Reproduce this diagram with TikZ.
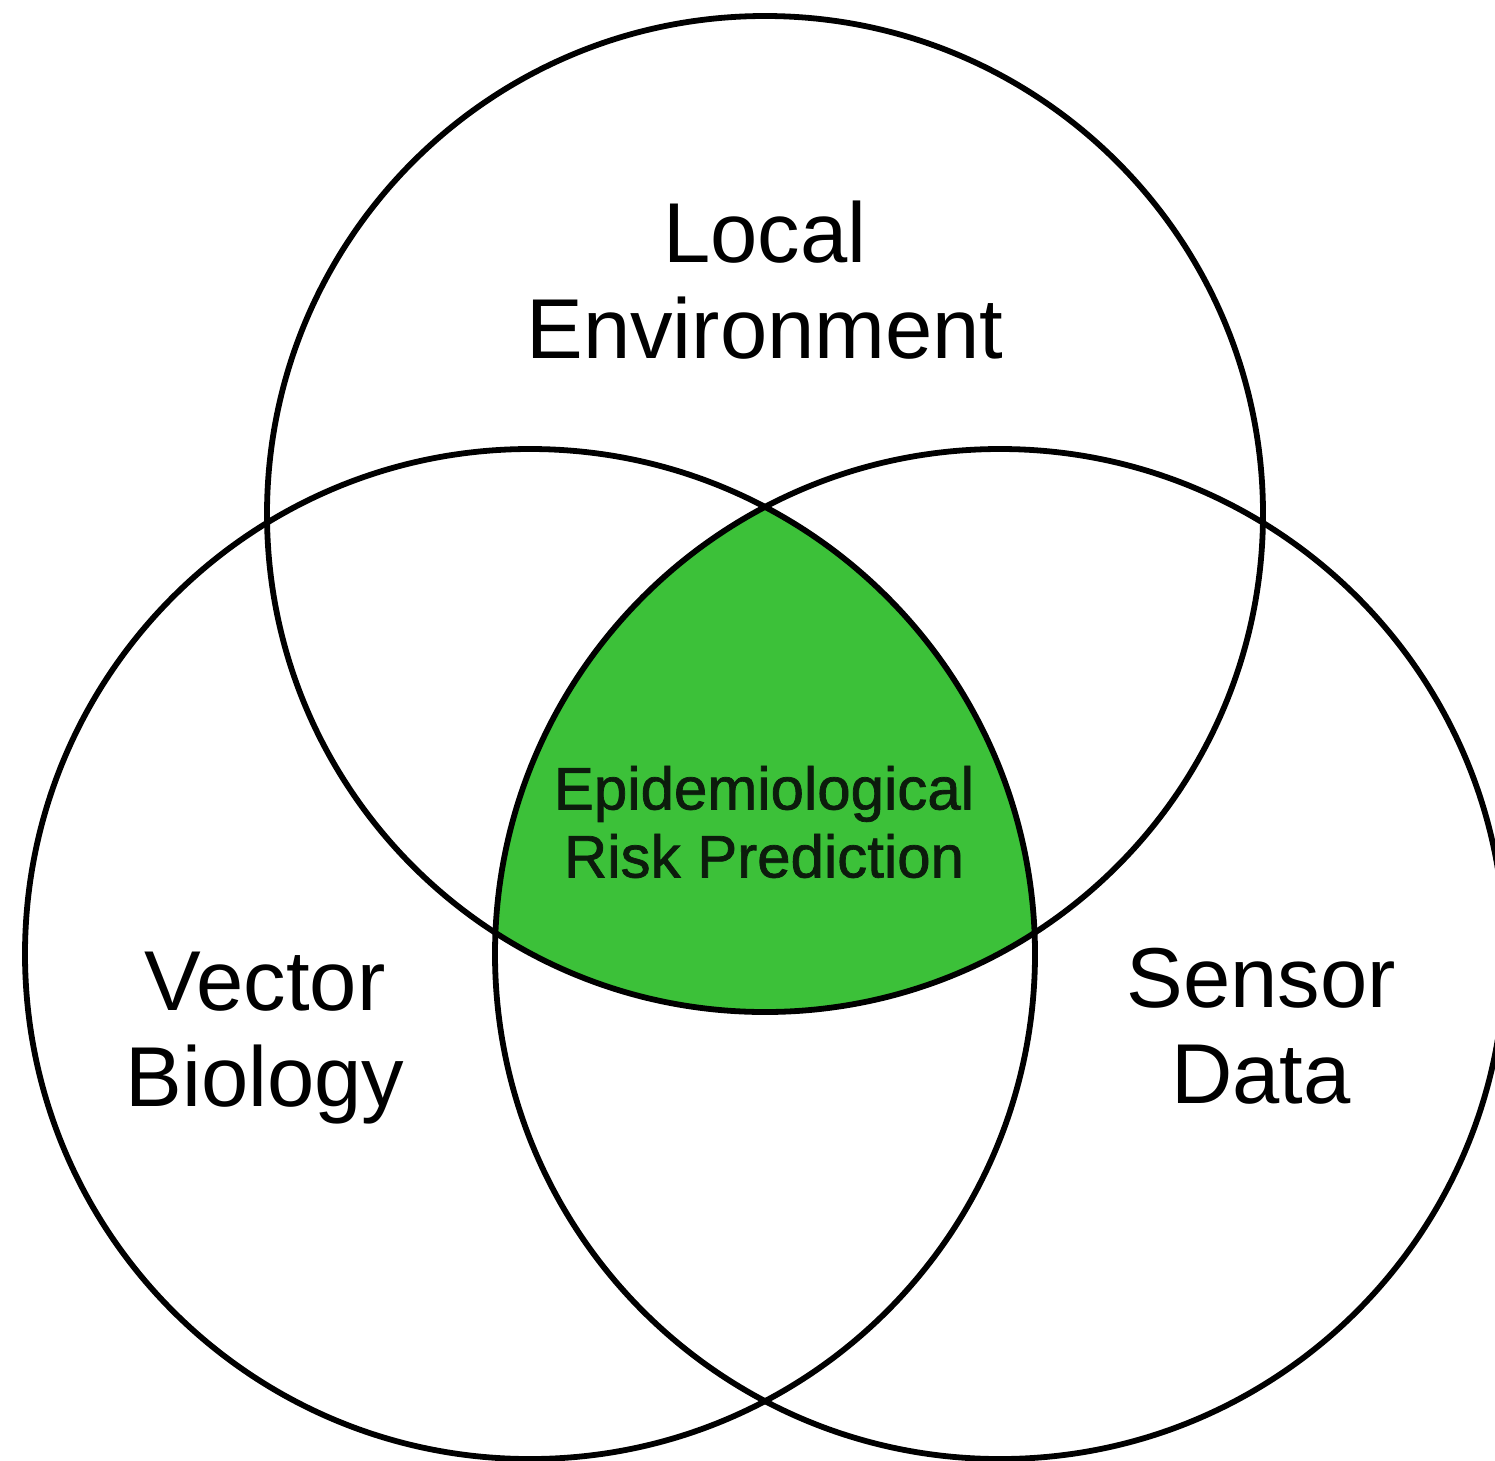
\documentclass[tikz,border=0pt]{standalone}
\usepackage{fontspec}
\setmainfont{Liberation Sans}
\newfontfamily\medfont[FakeBold=1.2]{Liberation Sans}
\definecolor{riskgreen}{RGB}{60,193,57}
\definecolor{darktext}{RGB}{12,28,12}
\begin{document}
\begin{tikzpicture}[x=1pt,y=-1pt,
  vcirc/.style={circle,draw=black,line width=5.8pt,inner sep=0pt,outer sep=0pt},
  biglabel/.style={align=center,inner sep=0pt,font=\fontsize{85}{96}\selectfont},
  risklabel/.style={align=center,inner sep=0pt,text=darktext,font=\medfont\fontsize{60}{68}\selectfont}]
\useasboundingbox (0,0) rectangle (1495,1460);
\fill[white] (0,0) rectangle (1495,1460);
% intersection fill
\begin{scope}
  \clip (765,514) circle[radius=498pt];
  \clip (530,954) circle[radius=505pt];
  \fill[riskgreen] (1000,954) circle[radius=505pt];
\end{scope}
\node[vcirc,minimum size=996pt] (env) at (765,514) {};
\node[vcirc,minimum size=1010pt] (vec) at (530,954) {};
\node[vcirc,minimum size=1010pt] (sen) at (1000,954) {};
\node[biglabel] (envlabel) at (765,280) {Local\\Environment};
\node[biglabel] (veclabel) at (265,1038) {Vector\\Biology};
\node[biglabel] (senlabel) at (1261,1026) {Sensor\\Data};
\node[risklabel] (risk) at (764,822) {Epidemiological\\Risk Prediction};
\end{tikzpicture}
\end{document}
